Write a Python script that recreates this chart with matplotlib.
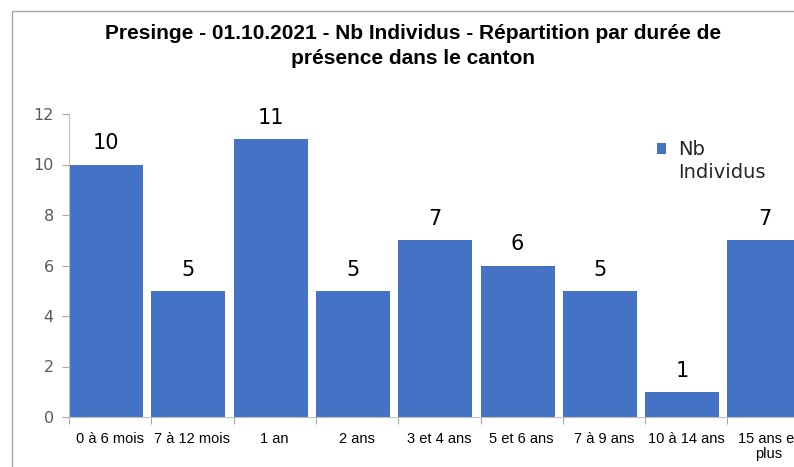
import numpy as np
import matplotlib.pyplot as plt
from matplotlib.patches import Rectangle

categories = ['0 à 6 mois', '7 à 12 mois', '1 an', '2 ans', '3 et 4 ans',
              '5 et 6 ans', '7 à 9 ans', '10 à 14 ans', '15 ans et\nplus']
values = [10, 5, 11, 5, 7, 6, 5, 1, 7]
yticks = [0, 2, 4, 6, 8, 10, 12]

BLUE = '#4472C4'
GREY = '#595959'

W, H = 794, 467
fig = plt.figure(figsize=(W / 100, H / 100), dpi=100, facecolor='white')

# chart frame (right/bottom edges fall outside the picture, as in the source)
fig.patches.append(Rectangle((12 / W, -0.1), 1.2, 1 - 11 / H + 0.1,
                             transform=fig.transFigure, fill=False,
                             edgecolor='#A6A6A6', lw=1.0))

# plot area: slightly wider than the figure so the last bar is cut off
ax = fig.add_axes([69 / W, 50 / H, 740.7 / W, 303 / H])
x = np.arange(len(values))
bars = ax.bar(x - 0.5, values, width=0.9, align='edge', color=BLUE,
              label='Nb\nIndividus')
for b, v in zip(bars, values):
    ax.annotate(str(v), (b.get_x() + b.get_width() / 2, v),
                xytext=(0, 8), textcoords='offset points',
                ha='center', va='bottom', fontsize=15, color='black')

ax.set_xlim(-0.5, len(values) - 0.5)
ax.set_ylim(0, 12)
ax.set_yticks(yticks)
ax.tick_params(axis='y', colors='#A6A6A6', labelcolor=GREY, labelsize=11.5,
               length=5, width=0.8, pad=6)
ax.set_xticks(x)
ax.set_xticklabels(categories, fontsize=10.5, color='black',
                   family='Liberation Sans', linespacing=1.1)
ax.set_xticks(np.arange(len(values) + 1) - 0.5, minor=True)
ax.tick_params(axis='x', which='major', length=0, pad=11)
ax.tick_params(axis='x', which='minor', length=5, color='#A6A6A6', width=0.8)
for s in ['top', 'right']:
    ax.spines[s].set_visible(False)
for s in ['left', 'bottom']:
    ax.spines[s].set_color('#BFBFBF')
    ax.spines[s].set_linewidth(0.8)

fig.text(413 / W, 1 - 46 / H,
         'Presinge - 01.10.2021 - Nb Individus - Répartition par durée de\n'
         'présence dans le canton',
         ha='center', va='center', fontsize=15, fontweight='bold',
         family='Liberation Sans', linespacing=1.38)

leg = ax.legend(loc='upper left', bbox_to_anchor=(647 / W, 1 - 130 / H),
                bbox_transform=fig.transFigure, frameon=False, fontsize=14,
                handlelength=0.5, handleheight=0.5, handletextpad=0.6,
                borderpad=0)
for t in leg.get_texts():
    t.set_color('#262626')
    t.set_linespacing(1.3)
# keep the square level with the first line of the label
h = leg.legend_handles[0]
h.set_y(h.get_y() + 9.5)

plt.savefig('out.png', dpi=100, facecolor='white')
